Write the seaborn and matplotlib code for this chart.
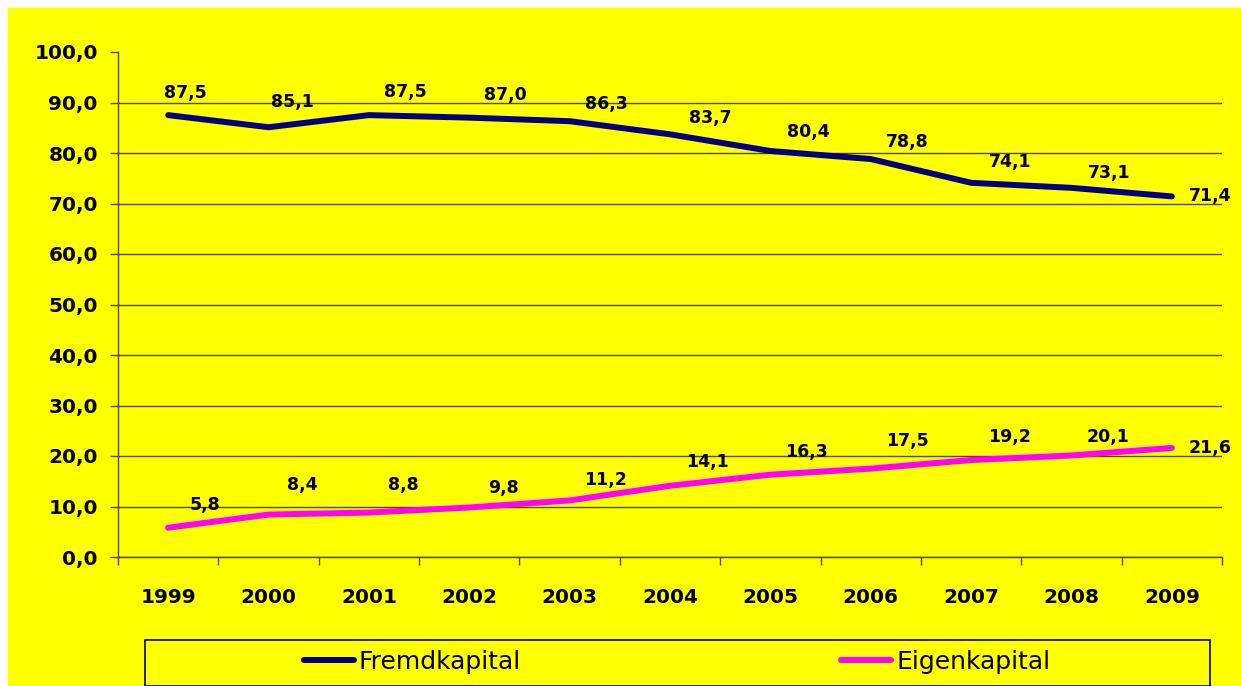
import numpy as np
import pandas as pd
import matplotlib
matplotlib.use("Agg")
import matplotlib.pyplot as plt
from matplotlib.patches import Rectangle
from matplotlib.ticker import FuncFormatter, FixedLocator
import seaborn as sns

# ----------------------------
# Data
# ----------------------------
years = ["1999", "2000", "2001", "2002", "2003", "2004", "2005", "2006", "2007", "2008", "2009"]
fremdkapital = [87.5, 85.1, 87.5, 87.0, 86.3, 83.7, 80.4, 78.8, 74.1, 73.1, 71.4]
eigenkapital = [5.8, 8.4, 8.8, 9.8, 11.2, 14.1, 16.3, 17.5, 19.2, 20.1, 21.6]
series_names = ["Fremdkapital", "Eigenkapital"]
colors = {"Fremdkapital": "#000080", "Eigenkapital": "#FF00FF"}

# label offsets in pixels (dx, dy)
top_offsets = [(17, 22), (24, 25), (36, 23), (36, 23), (37, 17), (40, 16),
               (38, 19), (37, 17), (39, 21), (38, 15), (38, 0)]
bottom_offsets = [(37, 23), (34, 30), (34, 28), (34, 20), (36, 20), (37, 24),
                  (36, 23), (37, 28), (38, 23), (37, 18), (38, 0)]

df = pd.DataFrame({
    "Jahr": years * 2,
    "Wert": fremdkapital + eigenkapital,
    "Reihe": [series_names[0]] * len(years) + [series_names[1]] * len(years),
})

# ----------------------------
# Figure
# ----------------------------
sns.set_style("ticks")
plt.rcParams["font.family"] = ["DejaVu Sans"]
plt.rcParams["text.color"] = "black"

W, H = 1241, 686
fig = plt.figure(figsize=(W / 100, H / 100), dpi=100, facecolor="white")
fig.patches.append(Rectangle((8 / W, 0), 1 - 8 / W, 1 - 8 / H, transform=fig.transFigure,
                             facecolor="#FFFF00", edgecolor="none", zorder=-10))

ax = fig.add_axes([118 / W, 1 - 557 / H, (1222 - 118) / W, (557 - 52) / H])
ax.set_facecolor("none")

sns.lineplot(data=df, x="Jahr", y="Wert", hue="Reihe", palette=colors, ax=ax,
             linewidth=4.3, legend=False, sort=False)
for ln in ax.get_lines():
    ln.set_solid_capstyle("round")
    ln.set_solid_joinstyle("round")

ax.set_xlim(-0.5, len(years) - 0.5)
ax.set_ylim(0, 100)
ax.set_xlabel("")
ax.set_ylabel("")

grid_col = "#4a4a00"
ax.set_yticks(np.arange(0, 101, 10))
ax.yaxis.set_major_formatter(FuncFormatter(lambda v, p: f"{v:.1f}".replace(".", ",")))
ax.yaxis.grid(True, color=grid_col, linewidth=1)
ax.get_ygridlines()[-1].set_visible(False)
ax.tick_params(axis="y", length=6, width=1, color=grid_col, pad=8.5,
               labelsize=14.5, labelcolor="black")

ax.set_xticks(range(len(years)))
ax.set_xticklabels(years)
ax.xaxis.set_minor_locator(FixedLocator(np.arange(-0.5, len(years), 1)))
ax.tick_params(axis="x", which="major", length=0, pad=22, labelsize=14.5, labelcolor="black")
ax.tick_params(axis="x", which="minor", length=6, width=1, color=grid_col)
for lbl in ax.get_xticklabels() + ax.get_yticklabels():
    lbl.set_fontweight("bold")

sns.despine(ax=ax)
for s in ["left", "bottom"]:
    ax.spines[s].set_color(grid_col)
    ax.spines[s].set_linewidth(1)

# data labels
for vals, offs in [(fremdkapital, top_offsets), (eigenkapital, bottom_offsets)]:
    for i, (v, (dx, dy)) in enumerate(zip(vals, offs)):
        ax.annotate(f"{v:.1f}".replace(".", ","), (i, v), xytext=(dx, dy),
                    textcoords="offset pixels", ha="center", va="center",
                    fontsize=12.5, fontweight="bold", color="black")

# legend
fig.patches.append(Rectangle((145 / W, 1 - 686 / H), (1210 - 145) / W, (686 - 640) / H,
                             transform=fig.transFigure, facecolor="none",
                             edgecolor="black", linewidth=1.2, zorder=1))
handles = [plt.Line2D([], [], color=colors[n], linewidth=4.3, solid_capstyle="round")
           for n in series_names]
fig.legend(handles, series_names, loc="center", bbox_to_anchor=(677 / W, 1 - 662 / H),
           ncol=2, frameon=False, fontsize=18, handlelength=2.0, handletextpad=0.2,
           columnspacing=12.8, labelcolor="black")

fig.savefig("out.png", dpi=100, facecolor=fig.get_facecolor())
